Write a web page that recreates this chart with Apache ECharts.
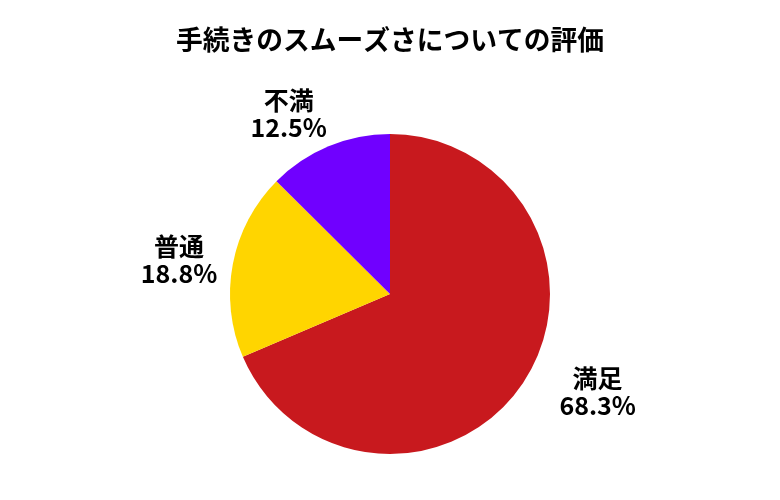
<!DOCTYPE html>
<html><head><meta charset="utf-8">
<script src="https://cdn.jsdelivr.net/npm/echarts@6/dist/echarts.min.js"></script>
<style>html,body{margin:0;padding:0;background:#fff}#c{width:780px;height:500px}</style>
</head><body><div id="c"></div>
<script>
const categories = ['満足', '普通', '不満'];
const values = [68.3, 18.8, 12.5];
const colors = ['#C8191E', '#FFD500', '#7000FF'];
const titleText = '手続きのスムーズさについての評価';
// small label nudges (px) relative to the library's default outside placement
const labelNudgeX = [10, 14, 13];
const labelNudgeY = [-4, 1, -9];

const chart = echarts.init(document.getElementById('c'));
chart.setOption({
  backgroundColor: '#fff',
  title: {
    text: titleText, left: 'center', top: 21,
    textStyle: {fontFamily: 'Noto Sans CJK JP', fontSize: 26.75, fontWeight: 'bold', color: '#000'}
  },
  series: [{
    type: 'pie',
    center: [390, 294], radius: 160,
    startAngle: 90, clockwise: true,
    animation: false,
    avoidLabelOverlap: false,
    data: categories.map((c, i) => ({name: c, value: values[i], itemStyle: {color: colors[i]}})),
    label: {
      show: true, position: 'outside',
      formatter: p => p.name + '\n' + values[p.dataIndex].toFixed(1) + '%',
      fontFamily: 'Noto Sans CJK JP', fontSize: 25, fontWeight: 'bold', color: '#000',
      lineHeight: 27
    },
    labelLine: {show: false, length: 25, length2: 0},
    labelLayout: p => ({
      x: p.labelRect.x + p.labelRect.width / 2 + labelNudgeX[p.dataIndex],
      y: p.labelRect.y + p.labelRect.height / 2 + labelNudgeY[p.dataIndex],
      align: 'center', verticalAlign: 'middle'
    }),
    emphasis: {disabled: true}
  }]
});
</script></body></html>
